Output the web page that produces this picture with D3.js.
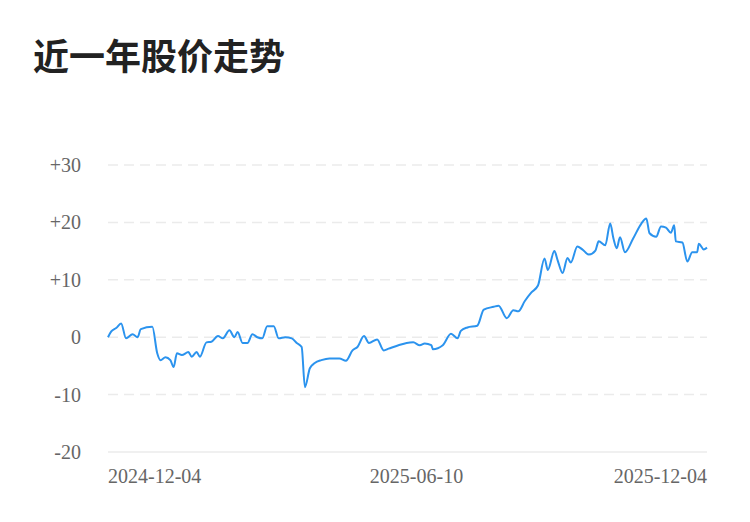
<!DOCTYPE html>
<html><head><meta charset="utf-8">
<script src="https://cdn.jsdelivr.net/npm/d3@7"></script>
<style>body{margin:0;background:#fff}</style></head>
<body><svg id="c" width="750" height="522"></svg>
<script>
const title = "近一年股价走势";
const startDate = "2024-12-04";
const endDate = "2025-12-04";
const xTickLabels = ["2024-12-04","2025-06-10","2025-12-04"];
const yTicks = [-20,-10,0,10,20,30];
const dayOffsets = [0,2,5,8,11,15,18,20,27,30,32,35,38,40,42,45,49,51,54,56,60,63,67,70,74,77,79,82,85,88,91,94,97,101,104,108,112,115,118,120,123,126,130,135,141,145,149,152,156,159,164,168,171,177,182,186,190,193,197,184+14,190+14,195+14,199+14,201+14,205+14,211+14,215+14,221+14,224+14,229+14,233+14,236+14,240+14,244+14,248+14,252+14,254+14,258+14,260+14,263+14,266+14,268+14,272+14,275+14,279+14,283+14,285+14,289+14,292+14,294+14,296+14,298+14,301+14,306+14,311+14,314+14,316+14,320+14,323+14,326+14,329+14,331+14,332+14,336+14,339+14,342+14,345+14,346+14,349+14,351+14];
const values = [0,1,1.6,2.4,-0.2,0.5,0,1.4,1.8,-2.8,-4,-3.5,-4,-5.2,-2.8,-3.1,-2.6,-3.4,-2.6,-3.4,-0.9,-0.8,0.2,-0.2,1.2,0,0.9,-1,-1,0.5,0,-0.2,1.9,1.9,-0.2,0,-0.2,-1,-1.7,-8.7,-5.4,-4.5,-4,-3.7,-3.7,-4.1,-2.3,-1.7,0.2,-1,-0.4,-2.3,-2,-1.4,-1,-0.9,-1.4,-1.1,-1.4,-2.1,-1.4,0.6,-0.2,1.1,1.7,2,4.8,5.3,5.5,3.3,4.7,4.5,6.3,7.8,9,13.7,11.7,15,13.4,11.2,13.8,13,15.8,15.3,14.4,15.1,16.7,16,19.8,17.2,15.5,17.4,14.8,17.2,19.8,20.7,18.1,17.5,19.3,19.1,18.2,19.5,16.7,16.5,13.2,14.8,14.8,16.3,15.3,15.6];

const svg = d3.select("#c");
const t0 = d3.timeParse("%Y-%m-%d")(startDate), t1 = d3.timeParse("%Y-%m-%d")(endDate);
const x = d3.scaleTime().domain([t0,t1]).range([108,707]);
const y = d3.scaleLinear().domain([-20,30]).range([452,165]);
const font = "'Liberation Serif', serif";

svg.append("text").attr("x",33).attr("y",70).text(title)
  .attr("font-family","'Noto Sans CJK SC'").attr("font-weight","bold").attr("font-size",36).attr("fill","#222");

yTicks.forEach(v=>{
  svg.append("line").attr("x1",108).attr("x2",707).attr("y1",y(v)).attr("y2",y(v))
    .attr("stroke","#ebebeb").attr("stroke-width",1.5).attr("stroke-dasharray",v===-20?null:"10,6");
  svg.append("text").attr("x",81).attr("y",y(v)+7).attr("text-anchor","end")
    .attr("font-family",font).attr("font-size",20).attr("fill","#666")
    .text(v>0?"+"+v:String(v));
});
const anchors=["start","middle","end"];
xTickLabels.forEach((s,i)=>{
  const d=d3.timeParse("%Y-%m-%d")(s);
  svg.append("text").attr("x",x(d)).attr("y",483).attr("text-anchor",anchors[i])
    .attr("font-family",font).attr("font-size",20).attr("fill","#666").text(s);
});
const data = dayOffsets.map((o,i)=>({d:d3.timeDay.offset(t0,o),v:values[i]}));
svg.append("path").datum(data).attr("fill","none").attr("stroke","#2b93ee").attr("stroke-width",2)
  .attr("d",d3.line().x(d=>x(d.d)).y(d=>y(d.v)).curve(d3.curveMonotoneX));
</script></body></html>
